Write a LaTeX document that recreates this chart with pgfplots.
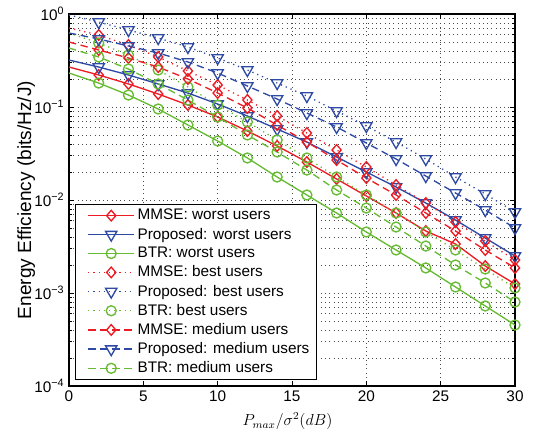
\documentclass[border=0pt]{standalone}
\usepackage{fontspec}
\setmainfont{Liberation Sans}
\setsansfont{Liberation Sans}
\usepackage{pgfplots}
\pgfplotsset{compat=1.18}
\definecolor{mred}{RGB}{237,28,36}
\definecolor{mblue}{RGB}{46,74,164}
\definecolor{mgreen}{RGB}{102,187,50}
\pgfplotsset{
 mm/.style={mred, line width=1pt, mark=diamond, mark size=4pt, mark phase=2, mark options={solid, line width=1pt, xscale=1.15}},
 pp/.style={mblue, line width=1pt, mark=triangle, mark size=4.9pt, mark phase=2, mark options={solid, rotate=180, line width=1pt}},
 bb/.style={mgreen, line width=1pt, mark=o, mark size=3.75pt, mark phase=2, mark options={solid, line width=1pt}},
 dotl/.style={dash pattern=on 0.9pt off 3pt},
 dashl/.style={dash pattern=on 5.5pt off 3.5pt},
}
\begin{document}
\begin{tikzpicture}
\path[use as bounding box] (-51.75pt,-37.5pt) rectangle (349.5pt,289.5pt);
\begin{axis}[
 at={(0pt,0pt)}, anchor=south west,
 scale only axis, width=334.5pt, height=279pt,
 xmin=0, xmax=30, ymin=1e-4, ymax=1, ymode=log,
 xtick={0,5,...,30}, xticklabels={0,5,10,15,20,25,30},
 ytick={1e-4,1e-3,1e-2,1e-1,1},
 yticklabels={10\textsuperscript{−4},10\textsuperscript{−3},10\textsuperscript{−2},10\textsuperscript{−1},10\textsuperscript{0}},
 minor ytick={2e-4,3e-4,4e-4,5e-4,6e-4,7e-4,8e-4,9e-4,2e-3,3e-3,4e-3,5e-3,6e-3,7e-3,8e-3,9e-3,2e-2,3e-2,4e-2,5e-2,6e-2,7e-2,8e-2,9e-2,0.2,0.3,0.4,0.5,0.6,0.7,0.8,0.9},
 xmajorgrids, ymajorgrids, yminorgrids,
 major grid style={black!70, dash pattern=on 0.5pt off 2.7pt, line width=0.45pt},
 minor grid style={black!70, dash pattern=on 0.5pt off 2.7pt, line width=0.45pt},
 axis line style={line width=0.8pt},
 every tick/.style={black, line width=0.6pt},
 major tick length=4pt, minor tick length=2.2pt,
 tick label style={font=\fontsize{11.5}{13}\selectfont},
 xlabel={$P_{max}/\sigma^2(dB)$},
 xlabel style={font=\fontsize{12}{14}\selectfont, at={(axis description cs:0.49,-0.095)}, anchor=center},
 ylabel={Energy Efficiency (bits/Hz/J)},
 ylabel style={font=\fontsize{14.3}{16}\selectfont, at={(axis description cs:-0.096,0.5)}, anchor=center},
 legend cell align=left,
 legend style={at={(axis description cs:0.0135,0.016)}, anchor=south west,
   font=\fontsize{11.5}{13.5}\selectfont, draw=black, line width=0.8pt, fill=white,
   inner xsep=3pt, inner ysep=1.5pt, row sep=0.55pt},
 legend image code/.code={\path (-6pt,0pt); \draw[#1, mark repeat=2, mark phase=2] plot coordinates {(0pt,0pt) (17.25pt,0pt) (34.5pt,0pt)};},
]
% worst users (solid)
\addplot[mm] coordinates {(0,0.269)(2,0.221)(4,0.177)(6,0.138)(8,0.1051)(10,0.0781)(12,0.0552)(14,0.0381)(16,0.0256)(18,0.01682)(20,0.01104)(22,0.00725)(24,0.00464)(26,0.003365)(28,0.00195)(30,0.00125)};
\addlegendentry{MMSE: worst users}
\addplot[pp] coordinates {(0,0.320)(2,0.269)(4,0.221)(6,0.177)(8,0.1414)(10,0.1077)(12,0.0800)(14,0.0580)(16,0.0420)(18,0.0290)(20,0.0200)(22,0.0138)(24,0.00928)(26,0.00609)(28,0.00390)(30,0.00250)};
\addlegendentry{Proposed: worst users}
\addplot[bb] coordinates {(0,0.232)(2,0.181)(4,0.1345)(6,0.0952)(8,0.0640)(10,0.0431)(12,0.0283)(14,0.01767)(16,0.01132)(18,0.00725)(20,0.00453)(22,0.00290)(24,0.00186)(26,0.00116)(28,0.000725)(30,0.000453)};
\addlegendentry{BTR: worst users}
% best users (dotted)
\addplot[mm, dotl] coordinates {(0,0.707)(2,0.5945)(4,0.464)(6,0.345)(8,0.244)(10,0.1724)(12,0.1189)(14,0.0800)(16,0.0525)(18,0.0345)(20,0.02264)(22,0.0145)(24,0.00928)(26,0.00580)(28,0.00362)(30,0.002264)};
\addlegendentry{MMSE: best users}
\addplot[pp, dotl] coordinates {(0,0.9755)(2,0.820)(4,0.673)(6,0.552)(8,0.442)(10,0.3365)(12,0.250)(14,0.181)(16,0.1313)(18,0.0906)(20,0.0625)(22,0.0420)(24,0.0276)(26,0.01767)(28,0.0116)(30,0.00743)};
\addlegendentry{Proposed: best users}
\addplot[bb, dotl] coordinates {(0,0.625)(2,0.488)(4,0.362)(6,0.250)(8,0.1641)(10,0.1051)(12,0.0690)(14,0.0442)(16,0.0283)(18,0.01767)(20,0.01132)(22,0.00725)(24,0.00453)(26,0.00290)(28,0.00181)(30,0.001132)};
\addlegendentry{BTR: best users}
% medium users (dashed)
\addplot[mm, dashl] coordinates {(0,0.500)(2,0.410)(4,0.3365)(6,0.269)(8,0.200)(10,0.1414)(12,0.0976)(14,0.0640)(16,0.0420)(18,0.0269)(20,0.01724)(22,0.01132)(24,0.00725)(26,0.00464)(28,0.00290)(30,0.00186)};
\addlegendentry{MMSE: medium users}
\addplot[pp, dashl] coordinates {(0,0.625)(2,0.5385)(4,0.453)(6,0.381)(8,0.305)(10,0.232)(12,0.1682)(14,0.1219)(16,0.0862)(18,0.0610)(20,0.0410)(22,0.0276)(24,0.0181)(26,0.01189)(28,0.00781)(30,0.00500)};
\addlegendentry{Proposed: medium users}
\addplot[bb, dashl] coordinates {(0,0.431)(2,0.345)(4,0.256)(6,0.177)(8,0.1189)(10,0.0781)(12,0.0500)(14,0.0328)(16,0.0210)(18,0.01281)(20,0.00820)(22,0.00512)(24,0.00320)(26,0.00200)(28,0.001281)(30,0.000800)};
\addlegendentry{BTR: medium users}
\end{axis}
\end{tikzpicture}
\end{document}
